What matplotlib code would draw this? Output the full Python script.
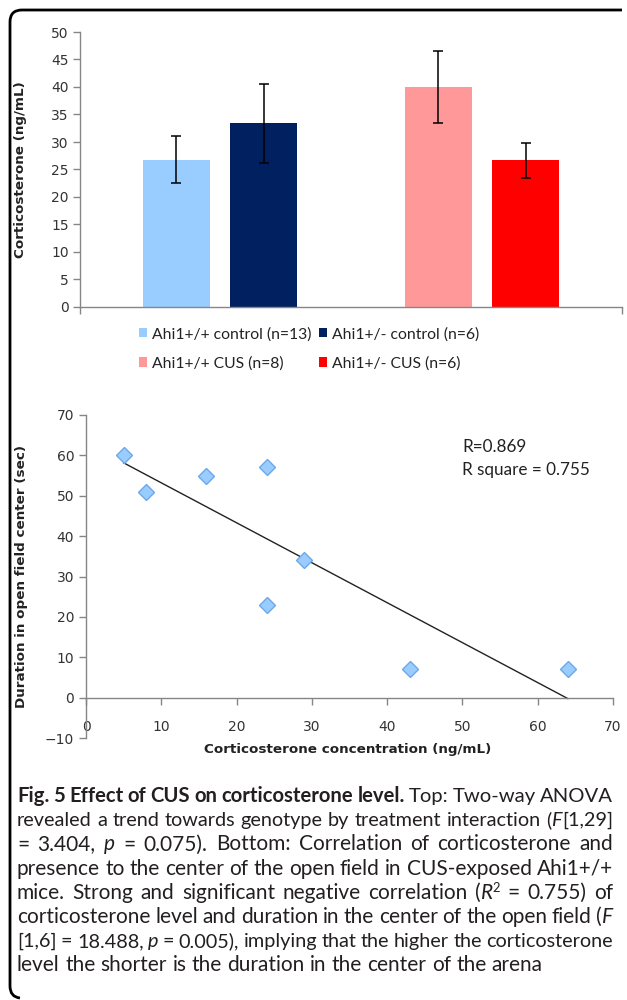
import matplotlib
matplotlib.use("Agg")
import matplotlib.pyplot as plt
import numpy as np
from matplotlib.patches import Patch, PathPatch
from matplotlib.path import Path
from matplotlib.transforms import IdentityTransform

# ---------------- data ----------------
bar_labels = ['Ahi1+/+ control (n=13)', 'Ahi1+/- control (n=6)',
              'Ahi1+/+ CUS (n=8)', 'Ahi1+/- CUS (n=6)']
bar_group = [0, 0, 1, 1]
bar_side = [-1, 1, -1, 1]
bar_means = [26.8, 33.4, 40.0, 26.7]
bar_errs = [4.3, 7.2, 6.5, 3.2]
bar_colors = ['#99CCFF', '#002060', '#FF9999', '#FF0000']
top_yticks = list(range(0, 51, 5))

cort = [5, 8, 16, 24, 24, 29, 43, 64]
duration = [60, 51, 55, 57, 23, 34, 7, 7]
sc_xticks = list(range(0, 71, 10))
sc_yticks = list(range(-10, 71, 10))
r_text = ['R=0.869', 'R square = 0.755']

W, H = 627, 1000
fig = plt.figure(figsize=(W / 100, H / 100), dpi=100)

def fx(x):
    return x / W

def fy(y):
    return 1 - y / H

axis_gray = '#868686'
tick_col = '#333333'
title_font = dict(family='DejaVu Sans', fontweight='bold', fontsize=9.7, color='#222222')

# ---------------- top bar chart ----------------
ax1 = fig.add_axes([fx(80), fy(307), fx(622) - fx(80), fy(32) - fy(307)])
bw = 0.256
off = 0.167
xs = [g + s * off for g, s in zip(bar_group, bar_side)]
ax1.bar(xs, bar_means, width=bw, color=bar_colors, zorder=2)
ax1.errorbar(xs, bar_means, yerr=bar_errs, fmt='none', ecolor='black',
             elinewidth=1.1, capsize=3.6, capthick=1.1, zorder=3)
ax1.set_xlim(-0.535, 1.535)
ax1.set_ylim(0, 50)
ax1.set_yticks(top_yticks)
ax1.set_xticks([-0.535, 1.535])
ax1.set_xticklabels([])
for s in ['top', 'right']:
    ax1.spines[s].set_visible(False)
for s in ['left', 'bottom']:
    ax1.spines[s].set_color(axis_gray)
    ax1.spines[s].set_linewidth(1.0)
ax1.tick_params(axis='both', colors=axis_gray, length=5, width=1.0, direction='out')
ax1.tick_params(axis='y', labelcolor=tick_col, labelsize=10, pad=3)
ax1.set_ylabel('Corticosterone (ng/mL)', **title_font)
ax1.yaxis.set_label_coords((27 - 80) / 542, 0.5)

handles = [Patch(facecolor=c, edgecolor='none', label=l) for c, l in zip(bar_colors, bar_labels)]
order = [0, 2, 1, 3]
fig.legend([handles[i] for i in order], [bar_labels[i] for i in order], ncol=2,
           loc='upper left', bbox_to_anchor=(fx(139), fy(327)), frameon=False,
           prop={'family': 'Lato', 'size': 11.3}, handlelength=0.52, handleheight=0.52,
           handletextpad=0.3, columnspacing=0.5, labelspacing=0.95,
           borderpad=0, borderaxespad=0, labelcolor='#222222')

# ---------------- scatter ----------------
ax2 = fig.add_axes([fx(86), fy(738), fx(613) - fx(86), fy(415) - fy(738)])
ax2.plot(cort, duration, linestyle='none', marker='D', markersize=8,
         markerfacecolor='#99CCFF', markeredgecolor='#6FA8E8', markeredgewidth=1.0, zorder=3)
slope, intercept = np.polyfit(cort, duration, 1)
xl = np.array([min(cort), max(cort)])
ax2.plot(xl, slope * xl + intercept, color='#222222', linewidth=1.0, zorder=2)
ax2.set_xlim(0, 70)
ax2.set_ylim(-10, 70)
ax2.set_xticks(sc_xticks)
ax2.set_yticks(sc_yticks)
for s in ['top', 'right']:
    ax2.spines[s].set_visible(False)
ax2.spines['bottom'].set_position(('data', 0))
for s in ['left', 'bottom']:
    ax2.spines[s].set_color(axis_gray)
    ax2.spines[s].set_linewidth(1.0)
ax2.tick_params(axis='both', colors=axis_gray, length=5, width=1.0, direction='out')
ax2.tick_params(axis='both', labelcolor=tick_col, labelsize=10)
ax2.tick_params(axis='x', pad=11)
ax2.set_ylabel('Duration in open field center (sec)', **title_font)
ax2.yaxis.set_label_coords((27.5 - 86) / 527, 0.5)
fig.text(fx(348), fy(749), 'Corticosterone concentration (ng/mL)',
         ha='center', va='center', **title_font)
ax2.text(50, 62.1, r_text[0], family='Lato', fontsize=12.3, color='#222222', va='center')
ax2.text(50, 56.4, r_text[1], family='Lato', fontsize=12.3, color='#222222', va='center')

# ---------------- border ----------------
pts = [(fx(622), fy(10)), (fx(22), fy(10)), (fx(10), fy(10)), (fx(10), fy(22)),
       (fx(10), fy(986)), (fx(10), fy(997)), (fx(20), fy(998))]
codes = [Path.MOVETO, Path.LINETO, Path.CURVE3, Path.CURVE3, Path.LINETO, Path.CURVE3, Path.CURVE3]
border = PathPatch(Path(pts, codes), facecolor='none', edgecolor='black', linewidth=2.0,
                   transform=fig.transFigure)
fig.patches.append(border)

# ---------------- caption ----------------
cap_fs = 15
R = {'family': 'Lato', 'fontsize': cap_fs, 'color': '#231F20'}
B = dict(R, fontweight='bold')
I = dict(R, fontstyle='italic')
SUP = dict(R, fontsize=cap_fs * 0.62, dy=7)

def words(s, st=R):
    return [[(w, st)] for w in s.split(' ')]

lines = [
    words('Fig. 5 Effect of CUS on corticosterone level.', B) + words('Top: Two-way ANOVA'),
    words('revealed a trend towards genotype by treatment interaction') + [[('(', R), ('F', I), ('[1,29]', R)]],
    words('= 3.404,') + [[('p', I)]] + words('= 0.075). Bottom: Correlation of corticosterone and'),
    words('presence to the center of the open field in CUS-exposed Ahi1+/+'),
    words('mice. Strong and significant negative correlation') + [[('(', R), ('R', I), ('2', SUP)]] +
    words('= 0.755) of'),
    words('corticosterone level and duration in the center of the open field') + [[('(', R), ('F', I)]],
    words('[1,6] = 18.488,') + [[('p', I)]] + words('= 0.005), implying that the higher the corticosterone'),
    words('level the shorter is the duration in the center of the arena'),
]

fig.canvas.draw()
renderer = fig.canvas.get_renderer()
x0, x1 = 17, 613
base_y = 802
pitch = 24.2

def measure(txt, st, scale):
    st2 = dict(st)
    st2.pop('dy', None)
    st2['fontsize'] = st2['fontsize'] * scale
    t = fig.text(0, 0, txt, transform=IdentityTransform(), **st2)
    wd = t.get_window_extent(renderer).width
    t.remove()
    return wd

def space_w(scale):
    return measure('n n', R, scale) - measure('nn', R, scale)

def build(ln, y, scale):
    made, wwidths = [], []
    for w in ln:
        parts, tot = [], 0
        for txt, st in w:
            st2 = dict(st)
            dy = st2.pop('dy', 0) * scale
            st2['fontsize'] = st2['fontsize'] * scale
            t = fig.text(0, y + dy, txt, transform=IdentityTransform(), va='baseline',
                         ha='left', **st2)
            wd = t.get_window_extent(renderer).width
            parts.append((t, wd, dy))
            tot += wd
        made.append(parts)
        wwidths.append(tot)
    return made, wwidths

for li, ln in enumerate(lines):
    y = H - (base_y + li * pitch)
    scale = 1.0
    while True:
        made, wwidths = build(ln, y, scale)
        min_space = space_w(scale) * 0.8
        if sum(wwidths) + min_space * (len(ln) - 1) <= (x1 - x0) or scale < 0.85:
            break
        for parts in made:
            for t, _, _ in parts:
                t.remove()
        scale *= 0.985
    if li < len(lines) - 1 and len(ln) > 1:
        space = (x1 - x0 - sum(wwidths)) / (len(ln) - 1)
    else:
        space = space_w(scale)
    x = x0
    for parts, tot in zip(made, wwidths):
        xx = x
        for t, wd, dy in parts:
            t.set_position((xx, y + dy))
            xx += wd
        x += tot + space

fig.savefig('out.png', dpi=100)
